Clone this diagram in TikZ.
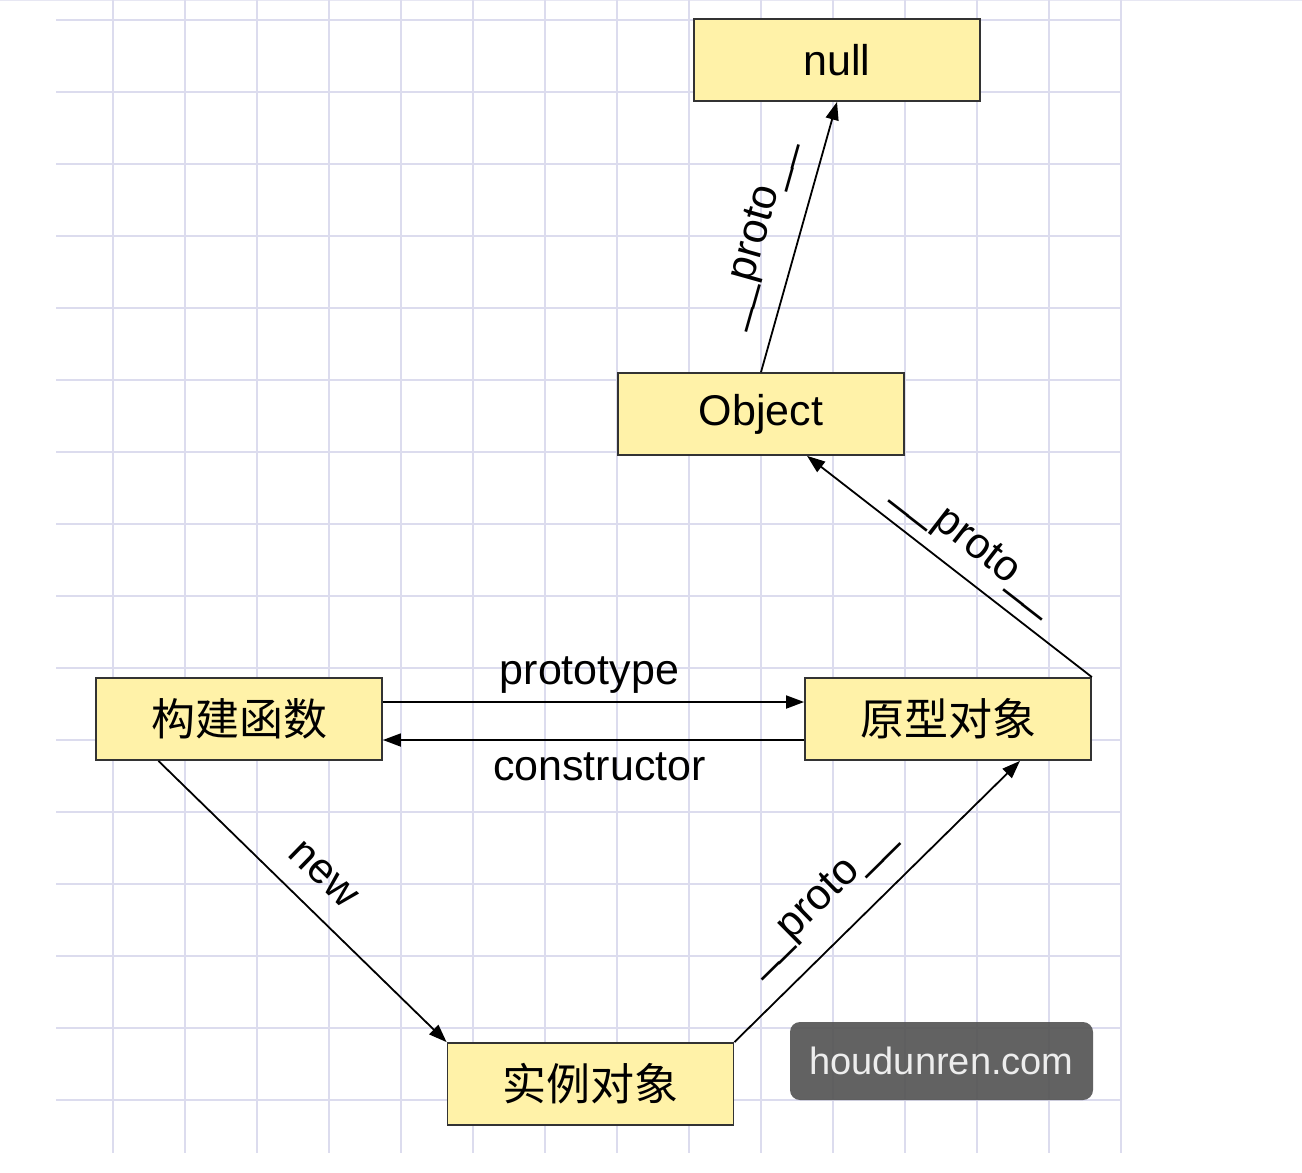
\documentclass[tikz,border=0pt]{standalone}
\usepackage{fontspec}
\setmainfont{Liberation Sans}
\newfontfamily\cjkfont{Noto Sans CJK SC}
\usepackage{tikz}
\usetikzlibrary{calc,positioning,arrows.meta}

\definecolor{boxfill}{HTML}{FFF2A8}
\definecolor{boxline}{HTML}{333333}
\definecolor{gridline}{HTML}{DCDCEE}
\definecolor{markfill}{HTML}{565656}

\begin{document}
\begin{tikzpicture}[%
      x=1pt, y=-1pt,                        % one unit is one pixel, y going down
      >={Triangle[length=18pt,width=13pt]}, % block arrows
      font=\fontsize{43}{50}\selectfont,    % big sans labels
      every join/.style={norm},
      ]
  \tikzset{
    base/.style={draw=boxline, line width=1.8pt, fill=boxfill, align=center,
                 minimum width=286pt, minimum height=82pt, inner sep=0pt},
    proc/.style={base},
    cjk/.style={base, font=\fontsize{44}{50}\selectfont\cjkfont},
    norm/.style={->, draw, line width=1.8pt},
    lbl/.style={sloped, inner sep=0pt},
    wmark/.style={fill=markfill, fill opacity=0.93, text opacity=1, text=white!93!black,
                  rounded corners=10pt, minimum width=303pt, minimum height=78pt,
                  font=\fontsize{38}{44}\selectfont},
  }
  \useasboundingbox (0,0) rectangle (1302,1173);

  % Grid paper
  \draw [gridline!70, line width=1.2pt] (0,0.6) -- (1302,0.6);
  \foreach \x in {113,185,...,1121}
    \draw [gridline, line width=2pt] (\x,0) -- (\x,1153);
  \foreach \y in {20,92,...,1100}
    \draw [gridline, line width=2pt] (56,\y) -- (1121,\y);

  % Define the boxes
  \node [proc] (null)  at (837,60)    {null};
  \node [proc] (obj)   at (761,414)   {Object};
  \node [cjk]  (ctor)  at (239,719)   {构建函数};
  \node [cjk]  (proto) at (948,719)   {原型对象};
  \node [cjk]  (inst)  at (590.5,1084) {实例对象};

  % Prototype chain
  \draw [norm] (obj.north) -- node[lbl, pos=0.47, above=22pt] {\_\_proto\_\_} (null.south);
  \draw [norm] (proto.north east)
    -- node[lbl, pos=0.475, above=12pt] {\_\_proto\_\_}
    ($(obj.south west)!0.66!(obj.south east)$);
  \draw [norm] (inst.north east)
    -- node[lbl, pos=0.40, above=22pt] {\_\_proto\_\_}
    ($(proto.south west)!0.75!(proto.south east)$);

  % Constructor and prototype
  \draw [norm] ([yshift=17pt]ctor.east) -- node[above=8pt, xshift=-4pt, inner sep=0pt] {prototype} ([yshift=17pt]proto.west);
  \draw [norm] ([yshift=-21pt]proto.west) -- node[below=12pt, xshift=6pt, inner sep=0pt] {constructor} ([yshift=-21pt]ctor.east);
  \draw [norm] ($(ctor.south west)!0.22!(ctor.south east)$)
    -- node[lbl, pos=0.49, above=21pt] {new}
    (inst.north west);

  % Watermark
  \node [wmark] (mark) at (941.5,1061) {houdunren.com};

\end{tikzpicture}
\end{document}
